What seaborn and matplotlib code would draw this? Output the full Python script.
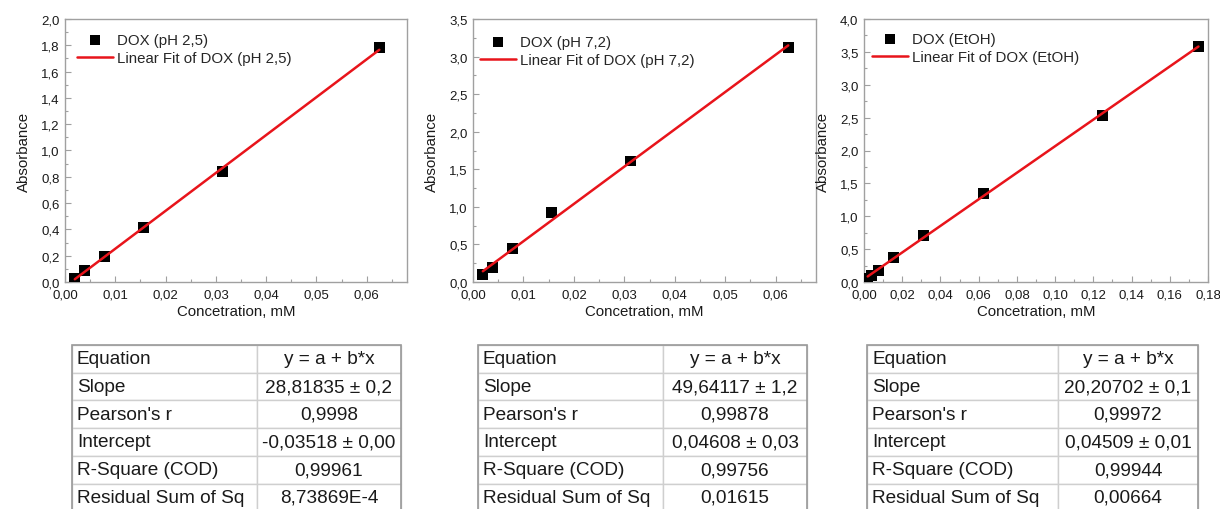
import matplotlib
matplotlib.use('Agg')
import matplotlib.pyplot as plt
import matplotlib.ticker as ticker
import seaborn as sns
import numpy as np

# measured points
conc_ph25 = [0.00195, 0.0039, 0.0078, 0.0156, 0.03125, 0.0625]
abs_ph25 = [0.025, 0.085, 0.195, 0.415, 0.84, 1.78]

conc_ph72 = [0.00195, 0.0039, 0.0078, 0.0156, 0.03125, 0.0625]
abs_ph72 = [0.10, 0.19, 0.44, 0.92, 1.61, 3.12]

conc_etoh = [0.00195, 0.0039, 0.0078, 0.0156, 0.03125, 0.0625, 0.125, 0.175]
abs_etoh = [0.05, 0.10, 0.18, 0.37, 0.71, 1.35, 2.53, 3.58]

# fit results (from the tables)
slope = [28.81835, 49.64117, 20.20702]
intercept = [-0.03518, 0.04608, 0.04509]

labels = ['DOX (pH 2,5)', 'DOX (pH 7,2)', 'DOX (EtOH)']

table_rows = ['Equation', 'Slope', "Pearson's r", 'Intercept', 'R-Square (COD)', 'Residual Sum of Sq']
table_ph25 = ['y = a + b*x', '28,81835 \u00b1 0,2', '0,9998', '-0,03518 \u00b1 0,00', '0,99961', '8,73869E-4']
table_ph72 = ['y = a + b*x', '49,64117 \u00b1 1,2', '0,99878', '0,04608 \u00b1 0,03', '0,99756', '0,01615']
table_etoh = ['y = a + b*x', '20,20702 \u00b1 0,1', '0,99972', '0,04509 \u00b1 0,01', '0,99944', '0,00664']

sns.set_style('ticks')
plt.rcParams['font.family'] = ['Liberation Sans', 'DejaVu Sans']

W, H = 1220, 510
fig = plt.figure(figsize=(12.2, 5.1), dpi=100)

frame = '#a0a0a0'
txt = '#1a1a1a'


def px_axes(l, r, t, b):
	return fig.add_axes([l / W, (H - b) / H, (r - l) / W, (b - t) / H])


panels = [
	dict(box=(65, 407, 20, 283), x=conc_ph25, y=abs_ph25, xlim=0.068, xstep=0.01, ylim=2.0, ystep=0.2,
		leg=(12, 14), tab=(72, 257, 401), tvals=table_ph25),
	dict(box=(473, 816, 20, 283), x=conc_ph72, y=abs_ph72, xlim=0.068, xstep=0.01, ylim=3.5, ystep=0.5,
		leg=(7, 16), tab=(478, 663, 807), tvals=table_ph72),
	dict(box=(864, 1208, 20, 283), x=conc_etoh, y=abs_etoh, xlim=0.18, xstep=0.02, ylim=4.0, ystep=0.5,
		leg=(8, 13), tab=(867, 1058, 1198), tvals=table_etoh),
]

comma = lambda fmt: ticker.FuncFormatter(lambda v, p: (fmt % v).replace('.', ','))

for i, p in enumerate(panels):
	l, r, t, b = p['box']
	ax = px_axes(l, r, t, b)
	sns.scatterplot(x=p['x'], y=p['y'], marker='s', s=62, color='black', edgecolor='none',
		ax=ax, zorder=3, label=labels[i])
	fx = np.array([min(p['x']), max(p['x'])])
	fy = intercept[i] + slope[i] * fx
	sns.lineplot(x=fx, y=fy, color='#e8141b', lw=1.8, ax=ax, zorder=4, label='Linear Fit of ' + labels[i])

	ax.set_xlim(0, p['xlim'])
	ax.set_ylim(0, p['ylim'])
	ax.xaxis.set_major_locator(ticker.MultipleLocator(p['xstep']))
	ax.yaxis.set_major_locator(ticker.MultipleLocator(p['ystep']))
	ax.xaxis.set_minor_locator(ticker.AutoMinorLocator(2))
	ax.yaxis.set_minor_locator(ticker.AutoMinorLocator(2))
	ax.xaxis.set_major_formatter(comma('%.2f'))
	ax.yaxis.set_major_formatter(comma('%.1f'))
	ax.tick_params(which='both', direction='in', color=frame, labelcolor=txt, labelsize=9.5, width=0.8)
	ax.tick_params(which='major', length=4)
	ax.tick_params(which='minor', length=2.5)
	ax.tick_params(axis='x', pad=4.5)
	ax.tick_params(axis='y', pad=4)
	for s in ax.spines.values():
		s.set_color(frame)
		s.set_linewidth(1.0)
	ax.set_xlabel('Concetration, mM', fontsize=10.8, color=txt, labelpad=3)
	ax.set_ylabel('Absorbance', fontsize=10.8, color=txt, labelpad=7)

	dx, dy = p['leg']
	handles, labs = ax.get_legend_handles_labels()
	ax.legend(handles, labs, loc='upper left', frameon=False, fontsize=10.8,
		bbox_to_anchor=(dx / (r - l), 1 - dy / (b - t)), borderaxespad=0, borderpad=0,
		handlelength=2.4, handletextpad=0.25, labelspacing=0.25, markerscale=0.95)

	# statistics table
	tl, tm, tr = p['tab']
	top = 346
	rowh = 27.7
	tax = px_axes(tl, tr, top, top + rowh * len(table_rows))
	tax.axis('off')
	cells = [[a, v] for a, v in zip(table_rows, p['tvals'])]
	w1 = (tm - tl) / (tr - tl)
	tbl = tax.table(cellText=cells, bbox=[0, 0, 1, 1], colWidths=[w1, 1 - w1], cellLoc='center')
	tbl.auto_set_font_size(False)
	tbl.set_fontsize(13.7)
	for (ri, ci), cell in tbl.get_celld().items():
		cell.set_edgecolor('#cfcfcf')
		cell.set_linewidth(1.0)
		cell.get_text().set_color(txt)
		if ci == 0:
			cell.get_text().set_ha('left')
			cell.PAD = 5 / (tm - tl)
	tax.add_patch(plt.Rectangle((0, 0), 1, 1, transform=tax.transAxes, fill=False,
		edgecolor='#9a9a9a', lw=1.2, clip_on=False))

fig.savefig('out.png', dpi=100)
